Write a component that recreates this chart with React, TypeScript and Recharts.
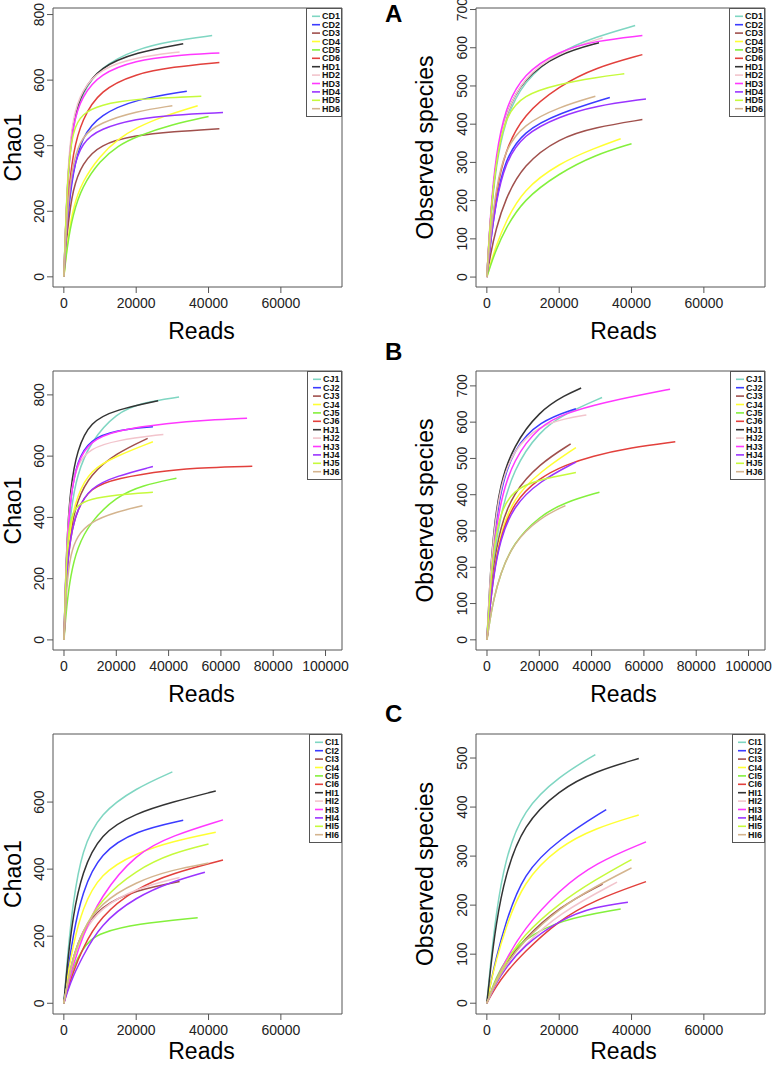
import React from "react";
import { LineChart, Line, XAxis, YAxis, ReferenceArea } from "recharts";

const FONT = "'Liberation Sans', Arial, Helvetica, sans-serif";

// same colour order in every panel (R palette of the legend)
const COLORS = ["#7fd6c2", "#3b3bff", "#a0504c", "#ffff33", "#84f03c", "#e2403c", "#333333", "#f2c4cc", "#ff38ff", "#9a34ff", "#c6fa3c", "#d4b48e"];

const namesD = ["CD1", "CD2", "CD3", "CD4", "CD5", "CD6", "HD1", "HD2", "HD3", "HD4", "HD5", "HD6"];
const namesJ = ["CJ1", "CJ2", "CJ3", "CJ4", "CJ5", "CJ6", "HJ1", "HJ2", "HJ3", "HJ4", "HJ5", "HJ6"];
const namesI = ["CI1", "CI2", "CI3", "CI4", "CI5", "CI6", "HI1", "HI2", "HI3", "HI4", "HI5", "HI6"];

const ticksX = [0, 20000, 40000, 60000];
const ticksXWide = [0, 20000, 40000, 60000, 80000, 100000];

// [reads, value] pairs
const chaoD: Record<string, number[][]> = {
  CD1: [[0, 0], [1000, 300], [2500, 465], [5000, 560], [10000, 640], [20000, 695], [30000, 720], [41000, 736]],
  CD2: [[0, 0], [1000, 180], [2500, 320], [5000, 428], [10000, 495], [20000, 542], [34000, 566]],
  CD3: [[0, 0], [1000, 150], [2500, 270], [5000, 345], [10000, 405], [20000, 432], [30000, 443], [43000, 452]],
  CD4: [[0, 0], [1000, 110], [2500, 210], [5000, 290], [10000, 370], [15000, 420], [20000, 455], [27500, 490], [37000, 522]],
  CD5: [[0, 0], [1000, 100], [2500, 190], [5000, 275], [10000, 355], [15000, 400], [20000, 428], [30000, 465], [40000, 489]],
  CD6: [[0, 0], [1000, 230], [2500, 380], [5000, 480], [10000, 570], [20000, 620], [30000, 640], [43000, 654]],
  HD1: [[0, 0], [1000, 310], [2500, 480], [5000, 565], [10000, 640], [20000, 685], [33000, 711]],
  HD2: [[0, 0], [1000, 330], [2500, 490], [5000, 570], [10000, 635], [20000, 670], [32000, 686]],
  HD3: [[0, 0], [1000, 300], [2500, 470], [5000, 550], [10000, 620], [20000, 660], [30000, 675], [43000, 683]],
  HD4: [[0, 0], [1000, 200], [2500, 330], [5000, 410], [10000, 452], [20000, 482], [30000, 494], [44000, 501]],
  HD5: [[0, 0], [1000, 320], [2500, 450], [5000, 497], [10000, 525], [20000, 543], [38000, 551]],
  HD6: [[0, 0], [1000, 220], [2500, 350], [5000, 430], [10000, 470], [20000, 505], [30000, 522]],
};

const obsD: Record<string, number[][]> = {
  CD1: [[0, 0], [1000, 150], [2500, 290], [5000, 410], [10000, 512], [20000, 590], [30000, 628], [41000, 658]],
  CD2: [[0, 0], [1000, 90], [2500, 200], [5000, 307], [10000, 381], [20000, 429], [34000, 470]],
  CD3: [[0, 0], [1000, 60], [2500, 125], [5000, 202], [10000, 294], [20000, 364], [30000, 392], [43000, 412]],
  CD4: [[0, 0], [1000, 35], [2500, 80], [5000, 141], [10000, 229], [20000, 298], [30000, 338], [37000, 362]],
  CD5: [[0, 0], [1000, 30], [2500, 70], [5000, 124], [10000, 202], [20000, 272], [30000, 320], [40000, 349]],
  CD6: [[0, 0], [1000, 100], [2500, 220], [5000, 330], [10000, 425], [20000, 500], [30000, 548], [43000, 582]],
  HD1: [[0, 0], [1000, 160], [2500, 305], [5000, 425], [10000, 520], [20000, 585], [31000, 613]],
  HD2: [[0, 0], [1000, 160], [2500, 305], [5000, 425], [10000, 522], [20000, 590], [32000, 626]],
  HD3: [[0, 0], [1000, 170], [2500, 320], [5000, 440], [10000, 532], [20000, 592], [30000, 618], [43000, 632]],
  HD4: [[0, 0], [1000, 90], [2500, 195], [5000, 298], [10000, 373], [20000, 420], [30000, 448], [44000, 466]],
  HD5: [[0, 0], [1000, 160], [2500, 300], [5000, 420], [10000, 477], [20000, 505], [30000, 522], [38000, 532]],
  HD6: [[0, 0], [1000, 110], [2500, 230], [5000, 333], [10000, 399], [20000, 445], [30000, 473]],
};

const chaoJ: Record<string, number[][]> = {
  CJ1: [[0, 0], [1000, 250], [2500, 420], [5000, 540], [10000, 645], [20000, 742], [30000, 775], [44000, 793]],
  CJ2: [[0, 0], [1000, 300], [2500, 470], [5000, 585], [10000, 655], [20000, 685], [34000, 696]],
  CJ3: [[0, 0], [1000, 220], [2500, 360], [5000, 455], [10000, 540], [20000, 610], [32000, 658]],
  CJ4: [[0, 0], [1000, 240], [2500, 380], [5000, 470], [10000, 555], [20000, 600], [34000, 647]],
  CJ5: [[0, 0], [1000, 110], [2500, 210], [5000, 300], [10000, 385], [20000, 468], [30000, 505], [43000, 528]],
  CJ6: [[0, 0], [1000, 220], [2500, 340], [5000, 425], [10000, 497], [20000, 528], [40000, 555], [55000, 563], [72000, 567]],
  HJ1: [[0, 0], [1000, 320], [2500, 500], [5000, 620], [10000, 713], [20000, 752], [36000, 781]],
  HJ2: [[0, 0], [1000, 320], [2500, 480], [5000, 575], [10000, 625], [20000, 652], [38000, 671]],
  HJ3: [[0, 0], [1000, 300], [2500, 470], [5000, 580], [10000, 650], [20000, 685], [40000, 708], [55000, 718], [70000, 724]],
  HJ4: [[0, 0], [1000, 220], [2500, 340], [5000, 425], [10000, 498], [20000, 535], [34000, 566]],
  HJ5: [[0, 0], [1000, 300], [2500, 400], [5000, 440], [10000, 460], [20000, 474], [34000, 482]],
  HJ6: [[0, 0], [1000, 180], [2500, 280], [5000, 340], [10000, 385], [20000, 418], [30000, 438]],
};

const obsJ: Record<string, number[][]> = {
  CJ1: [[0, 0], [1000, 100], [2500, 220], [5000, 340], [10000, 470], [20000, 576], [30000, 624], [44000, 668]],
  CJ2: [[0, 0], [1000, 130], [2500, 270], [5000, 410], [10000, 525], [20000, 603], [34000, 637]],
  CJ3: [[0, 0], [1000, 90], [2500, 200], [5000, 310], [10000, 405], [20000, 485], [32000, 540]],
  CJ4: [[0, 0], [1000, 80], [2500, 180], [5000, 290], [10000, 390], [20000, 462], [34000, 530]],
  CJ5: [[0, 0], [1000, 50], [2500, 110], [5000, 180], [10000, 267], [20000, 341], [30000, 380], [43000, 407]],
  CJ6: [[0, 0], [1000, 80], [2500, 180], [5000, 280], [10000, 378], [20000, 447], [30000, 482], [40000, 506], [55000, 530], [72000, 546]],
  HJ1: [[0, 0], [1000, 150], [2500, 300], [5000, 430], [10000, 534], [20000, 631], [30000, 675], [36000, 694]],
  HJ2: [[0, 0], [1000, 150], [2500, 290], [5000, 420], [10000, 525], [20000, 590], [30000, 610], [38000, 620]],
  HJ3: [[0, 0], [1000, 120], [2500, 250], [5000, 380], [10000, 497], [20000, 590], [30000, 625], [45000, 655], [60000, 677], [70000, 691]],
  HJ4: [[0, 0], [1000, 80], [2500, 175], [5000, 275], [10000, 368], [20000, 437], [34000, 490]],
  HJ5: [[0, 0], [1000, 120], [2500, 250], [5000, 350], [10000, 414], [20000, 442], [34000, 461]],
  HJ6: [[0, 0], [1000, 50], [2500, 110], [5000, 180], [10000, 267], [20000, 336], [30000, 370]],
};

const chaoI: Record<string, number[][]> = {
  CI1: [[0, 0], [1000, 140], [2500, 300], [5000, 458], [10000, 567], [20000, 642], [30000, 690]],
  CI2: [[0, 0], [1000, 90], [2500, 200], [5000, 330], [10000, 450], [20000, 515], [33000, 546]],
  CI3: [[0, 0], [1000, 60], [2500, 135], [5000, 215], [10000, 289], [20000, 338], [32000, 363]],
  CI4: [[0, 0], [1000, 80], [2500, 170], [5000, 280], [10000, 388], [20000, 448], [30000, 483], [42000, 510]],
  CI5: [[0, 0], [1000, 50], [2500, 105], [5000, 160], [7500, 190], [10000, 209], [20000, 237], [37000, 255]],
  CI6: [[0, 0], [1000, 40], [2500, 90], [5000, 160], [10000, 259], [20000, 343], [30000, 388], [44000, 427]],
  HI1: [[0, 0], [1000, 120], [2500, 260], [5000, 390], [10000, 507], [20000, 567], [30000, 600], [42000, 633]],
  HI2: [[0, 0], [1000, 60], [2500, 130], [5000, 205], [10000, 284], [20000, 343], [32000, 375]],
  HI3: [[0, 0], [1000, 50], [2500, 110], [5000, 195], [10000, 318], [20000, 448], [30000, 500], [44000, 547]],
  HI4: [[0, 0], [1000, 35], [2500, 80], [5000, 135], [10000, 235], [20000, 318], [30000, 363], [39000, 391]],
  HI5: [[0, 0], [1000, 60], [2500, 130], [5000, 210], [10000, 308], [20000, 398], [30000, 448], [40000, 475]],
  HI6: [[0, 0], [1000, 60], [2500, 135], [5000, 215], [10000, 298], [20000, 363], [30000, 398], [40000, 418]],
};

const obsI: Record<string, number[][]> = {
  CI1: [[0, 0], [1000, 80], [2500, 180], [5000, 293], [10000, 395], [20000, 463], [30000, 507]],
  CI2: [[0, 0], [1000, 40], [2500, 90], [5000, 160], [10000, 265], [20000, 335], [33000, 395]],
  CI3: [[0, 0], [1000, 20], [2500, 45], [5000, 80], [10000, 129], [20000, 197], [32000, 243]],
  CI4: [[0, 0], [1000, 40], [2500, 85], [5000, 150], [10000, 248], [20000, 320], [30000, 357], [42000, 384]],
  CI5: [[0, 0], [1000, 22], [2500, 50], [5000, 88], [10000, 129], [20000, 170], [37000, 192]],
  CI6: [[0, 0], [1000, 14], [2500, 33], [5000, 60], [10000, 102], [20000, 170], [30000, 211], [44000, 248]],
  HI1: [[0, 0], [1000, 70], [2500, 160], [5000, 260], [10000, 364], [20000, 435], [30000, 473], [42000, 499]],
  HI2: [[0, 0], [1000, 17], [2500, 40], [5000, 70], [10000, 116], [20000, 184], [36000, 247]],
  HI3: [[0, 0], [1000, 20], [2500, 45], [5000, 85], [10000, 150], [20000, 231], [30000, 286], [44000, 329]],
  HI4: [[0, 0], [1000, 17], [2500, 40], [5000, 70], [10000, 116], [20000, 170], [30000, 197], [39000, 206]],
  HI5: [[0, 0], [1000, 20], [2500, 45], [5000, 80], [10000, 139], [20000, 204], [30000, 252], [40000, 293]],
  HI6: [[0, 0], [1000, 18], [2500, 42], [5000, 75], [10000, 126], [20000, 194], [30000, 238], [40000, 276]],
};

interface PanelCfg {
  names: string[];
  series: Record<string, number[][]>;
  yTitle: string;
  yTicks: number[];
  yDomain: [number, number];
  xTicks: number[];
  xDomain: [number, number];
  left: number;
  top: number;
  width: number;
  height: number;
  marginTop: number;
  marginRight: number;
  yAxisWidth: number;
  xAxisHeight: number;
  readsDy: number;
  titleX: number;
  readsDx: number;
  legendW: number;
}

const ROWS = [
  { top: 0, height: 350, marginTop: 8, xAxisHeight: 63, readsDy: 36 },
  { top: 350, height: 360, marginTop: 21, xAxisHeight: 60, readsDy: 36 },
  { top: 700, height: 365, marginTop: 34, xAxisHeight: 51, readsDy: 29 },
];
const LEFT_COL = { left: 0, width: 385, marginRight: 43, yAxisWidth: 53, titleX: 12.5, readsDx: 4 };
const RIGHT_COL = { left: 385, width: 387, marginRight: 7, yAxisWidth: 91, titleX: 40, readsDx: 3 };

const panels: PanelCfg[] = [
  { ...ROWS[0], ...LEFT_COL, names: namesD, series: chaoD, yTitle: "Chao1", yTicks: [0, 200, 400, 600, 800], yDomain: [-31, 820], xTicks: ticksX, xDomain: [-3000, 76900], legendW: 36 },
  { ...ROWS[0], ...RIGHT_COL, names: namesD, series: obsD, yTitle: "Observed species", yTicks: [0, 100, 200, 300, 400, 500, 600, 700], yDomain: [-26, 704], xTicks: ticksX, xDomain: [-3000, 76900], legendW: 36 },
  { ...ROWS[1], ...LEFT_COL, names: namesJ, series: chaoJ, yTitle: "Chao1", yTicks: [0, 200, 400, 600, 800], yDomain: [-33, 878], xTicks: ticksXWide, xDomain: [-4200, 106300], legendW: 35 },
  { ...ROWS[1], ...RIGHT_COL, names: namesJ, series: obsJ, yTitle: "Observed species", yTicks: [0, 100, 200, 300, 400, 500, 600, 700], yDomain: [-28, 741], xTicks: ticksXWide, xDomain: [-4200, 106300], legendW: 35 },
  { ...ROWS[2], ...LEFT_COL, names: namesI, series: chaoI, yTitle: "Chao1", yTicks: [0, 200, 400, 600], yDomain: [-32, 803], xTicks: ticksX, xDomain: [-3000, 76900], legendW: 33 },
  { ...ROWS[2], ...RIGHT_COL, names: namesI, series: obsI, yTitle: "Observed species", yTicks: [0, 100, 200, 300, 400, 500], yDomain: [-22, 549], xTicks: ticksX, xDomain: [-3000, 76900], legendW: 33 },
];

function YTick(props: any) {
  const { x, y, payload } = props;
  const bx = x - 1;
  return (
    <text x={bx} y={y} transform={`rotate(-90, ${bx}, ${y})`} textAnchor="middle" fontSize={14} fill="#222" fontFamily={FONT}>
      {payload.value}
    </text>
  );
}

function XTick(props: any) {
  const { x, y, payload } = props;
  return (
    <text x={x} y={y} dy="0.71em" textAnchor="middle" fontSize={14} fill="#222" fontFamily={FONT}>
      {payload.value}
    </text>
  );
}

function PanelLegend({ names, width, right, top }: { names: string[]; width: number; right: number; top: number }) {
  return (
    <svg width={width} height={109} style={{ position: "absolute", left: right - width, top, overflow: "visible" }}>
      <rect x={0.5} y={0.5} width={width - 1} height={108} fill="#fff" stroke="#555" />
      {names.map((n, i) => {
        const cy = 8.3 + i * 8.4;
        return (
          <g key={n}>
            <line x1={6} x2={14} y1={cy} y2={cy} stroke={COLORS[i]} strokeWidth={1.6} />
            <text x={16} y={cy} dy="0.35em" fontSize={9} fontWeight="bold" fill="#111" fontFamily={FONT}>
              {n}
            </text>
          </g>
        );
      })}
    </svg>
  );
}

function Panel({ cfg }: { cfg: PanelCfg }) {
  const plotLeft = cfg.yAxisWidth;
  const plotRight = cfg.width - cfg.marginRight;
  const plotBottom = cfg.height - cfg.xAxisHeight;
  const cy = (cfg.marginTop + plotBottom) / 2;
  const cx = (plotLeft + plotRight) / 2 + cfg.readsDx;

  const yTitle = () => (
    <text x={cfg.titleX} y={cy} dy="0.35em" transform={`rotate(-90, ${cfg.titleX}, ${cy})`} textAnchor="middle" fontSize={23} fill="#000" fontFamily={FONT}>
      {cfg.yTitle}
    </text>
  );
  const xTitle = () => (
    <text x={cx} y={plotBottom + cfg.readsDy} dy="0.71em" textAnchor="middle" fontSize={23} fill="#000" fontFamily={FONT}>
      Reads
    </text>
  );

  return (
    <div style={{ position: "absolute", left: cfg.left, top: cfg.top, width: cfg.width, height: cfg.height }}>
      <LineChart width={cfg.width} height={cfg.height} margin={{ top: cfg.marginTop, right: cfg.marginRight, bottom: 0, left: 0 }}>
        <XAxis
          type="number"
          dataKey="x"
          domain={cfg.xDomain}
          ticks={cfg.xTicks}
          interval={0}
          allowDataOverflow
          height={cfg.xAxisHeight}
          axisLine={false}
          tickLine={{ stroke: "#555" }}
          tickSize={6}
          tickMargin={5}
          tick={<XTick />}
          label={xTitle}
        />
        <YAxis
          type="number"
          domain={cfg.yDomain}
          ticks={cfg.yTicks}
          interval={0}
          allowDataOverflow
          width={cfg.yAxisWidth}
          axisLine={false}
          tickLine={{ stroke: "#555" }}
          tickSize={6}
          tick={<YTick />}
          label={yTitle}
        />
        {cfg.names.map((n, i) => (
          <Line
            key={n}
            data={cfg.series[n].map(([x, y]) => ({ x, y }))}
            dataKey="y"
            type="basis"
            stroke={COLORS[i]}
            strokeWidth={1.5}
            dot={false}
            activeDot={false}
            isAnimationActive={false}
          />
        ))}
        <ReferenceArea
          x1={cfg.xDomain[0]}
          x2={cfg.xDomain[1]}
          y1={cfg.yDomain[0]}
          y2={cfg.yDomain[1]}
          fill="none"
          fillOpacity={0}
          stroke="#555"
          strokeWidth={1}
          ifOverflow="visible"
        />
      </LineChart>
      <PanelLegend names={cfg.names} width={cfg.legendW} right={plotRight} top={cfg.marginTop} />
    </div>
  );
}

export default function App() {
  return (
    <div style={{ position: "absolute", left: 0, top: 0, width: 772, height: 1065, overflow: "hidden", background: "#fff" }}>
      {panels.map((p, i) => (
        <Panel key={i} cfg={p} />
      ))}
      <svg width={772} height={1065} style={{ position: "absolute", left: 0, top: 0, pointerEvents: "none" }}>
        <text x={385} y={22} fontSize={24} fontWeight="bold" fontFamily={FONT}>A</text>
        <text x={385} y={360} fontSize={24} fontWeight="bold" fontFamily={FONT}>B</text>
        <text x={385} y={722} fontSize={24} fontWeight="bold" fontFamily={FONT}>C</text>
      </svg>
    </div>
  );
}
